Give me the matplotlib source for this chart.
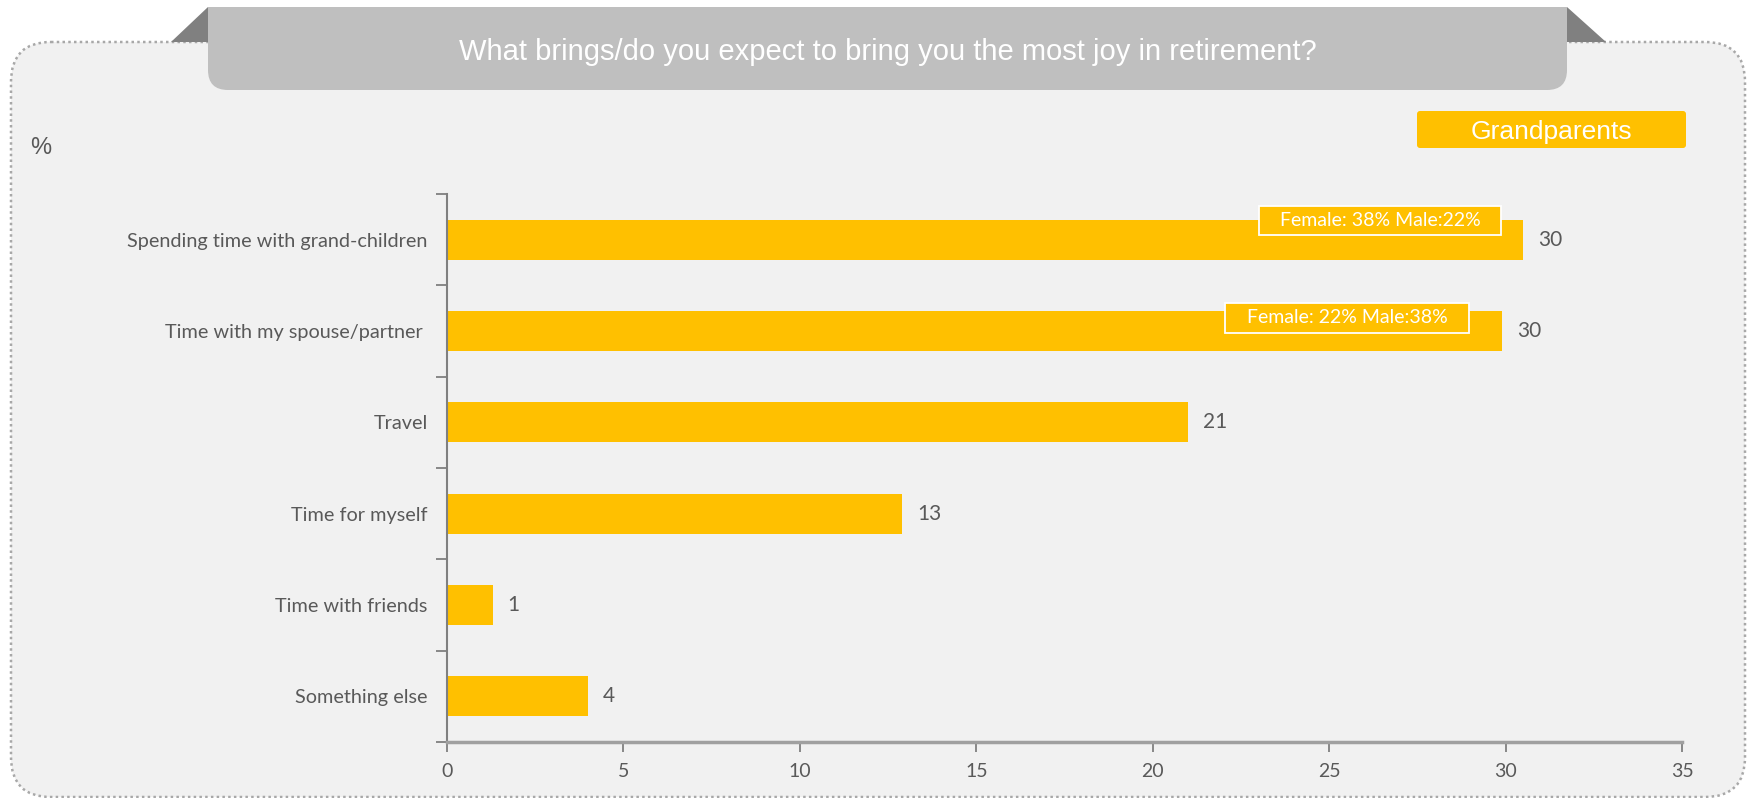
import matplotlib
matplotlib.use("Agg")
import matplotlib.pyplot as plt
from matplotlib.patches import FancyBboxPatch, Rectangle, Polygon

categories = ["Spending time with grand-children", "Time with my spouse/partner ", "Travel",
              "Time for myself", "Time with friends", "Something else"]
values = [30.5, 29.9, 21.0, 12.9, 1.3, 4.0]
value_labels = ["30", "30", "21", "13", "1", "4"]
xticks = [0, 5, 10, 15, 20, 25, 30, 35]
notes = ["Female: 38% Male:22%", "Female: 22% Male:38%"]
title = "What brings/do you expect to bring you the most joy in retirement?"
badge = "Grandparents"

# layout of the note boxes (data coords: x0, x1, y0, y1)
note_boxes = [(23.0, 29.88, -0.369, -0.051), (22.05, 28.96, 0.693, 1.018)]

W, H = 1748, 798
BAR = "#FFC000"
TXT = "#595959"
LAT = ["Lato", "DejaVu Sans"]
ARI = ["Liberation Sans", "DejaVu Sans"]

fig = plt.figure(figsize=(W / 100, H / 100), dpi=100)
fig.patch.set_facecolor("white")

bg = fig.add_axes([0, 0, 1, 1], zorder=0)
bg.set_xlim(0, W)
bg.set_ylim(H, 0)
bg.axis("off")

panel = FancyBboxPatch((11, 42), 1734, 755, boxstyle="round,pad=0,rounding_size=40",
                       fc="#F1F1F1", ec="#A8A8A8", lw=1.8, ls=(0, (1, 1.3)))
bg.add_patch(panel)
bg.add_patch(Polygon([(208, 7), (208, 42), (171, 42)], closed=True, fc="#808080", ec="none"))
bg.add_patch(Polygon([(1567, 7), (1567, 42), (1606, 42)], closed=True, fc="#808080", ec="none"))
bg.add_patch(FancyBboxPatch((208, 7), 1359, 83, boxstyle="round,pad=0,rounding_size=20",
                            fc="#BFBFBF", ec="none"))
bg.add_patch(Rectangle((208, 7), 1359, 40, fc="#BFBFBF", ec="none"))
bg.text(888, 52.5, title, color="white", fontsize=21, family=ARI, ha="center", va="center")
bg.add_patch(FancyBboxPatch((1417, 111), 269, 37, boxstyle="round,pad=0,rounding_size=3",
                            fc=BAR, ec="none"))
bg.text(1551.5, 132.5, badge, color="white", fontsize=19, family=ARI, ha="center", va="center")
bg.text(30, 148, "%", color=TXT, fontsize=17, family=ARI, ha="left", va="center")

ax = fig.add_axes([447 / W, 1 - 742 / H, (1682 - 447) / W, (742 - 194) / H], zorder=1)
ax.patch.set_alpha(0)
y = list(range(len(categories)))
ax.barh(y, values, height=0.44, color=BAR, zorder=2)
ax.set_ylim(len(categories) - 0.5, -0.5)
ax.set_xlim(0, 35)
ax.set_xticks(xticks)
ax.set_xticklabels([str(t) for t in xticks], family=LAT, fontsize=14, color=TXT)
ax.set_yticks(y)
ax.set_yticklabels(categories, family=LAT, fontsize=14.3, color=TXT)
ax.set_yticks([i - 0.5 for i in range(len(categories) + 1)], minor=True)
ax.tick_params(axis="y", which="major", length=0, pad=14)
ax.tick_params(axis="y", which="minor", length=8, color="#808080", width=1.3, direction="out")
ax.tick_params(axis="x", which="major", length=7, color="#808080", width=1.3, direction="out", pad=8)
for s in ["top", "right"]:
    ax.spines[s].set_visible(False)
ax.spines["left"].set_color("#808080")
ax.spines["left"].set_linewidth(1.5)
ax.spines["bottom"].set_color("#A0A0A0")
ax.spines["bottom"].set_linewidth(2.5)

for i, (v, lab) in enumerate(zip(values, value_labels)):
    ax.text(v + 0.42, i, lab, family=LAT, fontsize=15, color=TXT, va="center", ha="left")

for t, (x0, x1, y0, y1) in zip(notes, note_boxes):
    ax.add_patch(Rectangle((x0, y0), x1 - x0, y1 - y0, fc=BAR, ec="white", lw=1.3, zorder=3))
    ax.text((x0 + x1) / 2, (y0 + y1) / 2, t, family=LAT, fontsize=14, color="white",
            ha="center", va="center", zorder=4)

fig.savefig("out.png", dpi=100)
